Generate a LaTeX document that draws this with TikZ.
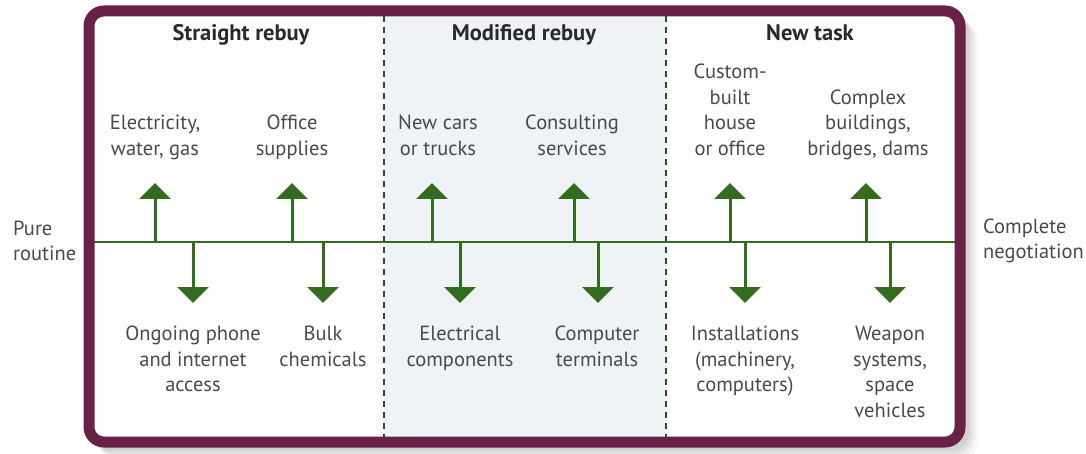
\documentclass[tikz,border=0pt]{standalone}
\usepackage{fontspec}
\setmainfont{PT Sans}
\usetikzlibrary{arrows.meta}
\definecolor{framecol}{HTML}{6A2148}
\definecolor{axiscol}{HTML}{336B1F}
\definecolor{txtcol}{HTML}{4A4A4A}
\definecolor{headcol}{HTML}{2A2A2A}
\definecolor{panelcol}{HTML}{EFF3F6}
\definecolor{dashcol}{HTML}{2F4A2A}
\tikzset{
  lbl/.style={text=txtcol, font=\fontsize{20.5}{25.5}\selectfont, align=center, inner sep=0pt,
    execute at begin node=\strut, execute at end node=\strut},
  head/.style={text=headcol, font=\fontsize{22.5}{25}\selectfont\bfseries, inner sep=0pt},
  side/.style={text=txtcol, font=\fontsize{20.5}{25.5}\selectfont, align=left, inner sep=0pt},
  framebox/.style={draw=framecol, line width=11pt, rounded corners=15pt},
  divider/.style={draw=dashcol, line width=1.8pt, dash pattern=on 6pt off 5pt},
  axisline/.style={draw=axiscol, line width=2.6pt},
  item/.style={draw=axiscol, line width=3pt, -{Triangle[width=31pt,length=16pt]}, fill=axiscol},
}
\begin{document}
\begin{tikzpicture}[x=1pt,y=-1pt]
\useasboundingbox (0,0) rectangle (1086,454);
\fill[white] (0,0) rectangle (1086,454);

% soft shadow to the lower right of the frame
\foreach \o/\a in {12/0.03,9/0.04,6/0.05,3/0.06}
  \fill[black,opacity=\a,rounded corners=18pt] (89+\o,11+\o) rectangle (966+\o,448+\o);

% frame interior and the shaded middle column
\fill[white,rounded corners=15pt] (89,11) rectangle (960,442);
\fill[panelcol] (384,16) rectangle (666,437);

% column dividers
\coordinate (d1t) at (384,16); \coordinate (d1b) at (384,437);
\coordinate (d2t) at (666,16); \coordinate (d2b) at (666,437);
\draw[divider] (d1t) -- (d1b);
\draw[divider] (d2t) -- (d2b);

% the continuum axis
\coordinate (axL) at (89,242);
\coordinate (axR) at (960,242);
\draw[axisline] (axL) -- (axR);

% outer frame
\draw[framebox] (89,11) rectangle (960,442);

% column headings
\node[head] (h1) at (241,35) {Straight rebuy};
\node[head] (h2) at (524,35) {Modified rebuy};
\node[head] (h3) at (810,33) {New task};

% end labels
\node[side,anchor=west] (pure) at (13,241) {Pure\\routine};
\node[side,anchor=west] (comp) at (983,241) {Complete\\negotiation};

% items above the axis
\node[lbl,anchor=south] (t1) at (155,163) {Electricity,\\water, gas};
\node[lbl,anchor=south] (t2) at (292,163) {Office\\supplies};
\node[lbl,anchor=south] (t3) at (438,163) {New cars\\or trucks};
\node[lbl,anchor=south] (t4) at (572,163) {Consulting\\services};
\node[lbl,anchor=south] (t5) at (730,163) {Custom-\\built\\house\\or office};
\node[lbl,anchor=south] (t6) at (868,163) {Complex\\buildings,\\bridges, dams};

% items below the axis
\node[lbl,anchor=north] (b1) at (193,326) {Ongoing phone\\and internet\\access};
\node[lbl,anchor=north] (b2) at (323,326) {Bulk\\chemicals};
\node[lbl,anchor=north] (b3) at (460,326) {Electrical\\components};
\node[lbl,anchor=north] (b4) at (597,326) {Computer\\terminals};
\node[lbl,anchor=north] (b5) at (745,326) {Installations\\(machinery,\\computers)};
\node[lbl,anchor=north] (b6) at (890,326) {Weapon\\systems,\\space\\vehicles};

% arrows pointing up
\foreach \n/\x in {1/155,2/292,3/432,4/574,5/730,6/866}{
  \coordinate (ua\n) at (\x,242);
  \coordinate (ut\n) at (\x,183);
  \draw[item] (ua\n) -- (ut\n);
}
% arrows pointing down
\foreach \n/\x in {1/193,2/323,3/460,4/598,5/745,6/890}{
  \coordinate (da\n) at (\x,242);
  \coordinate (dt\n) at (\x,303);
  \draw[item] (da\n) -- (dt\n);
}
\end{tikzpicture}
\end{document}
